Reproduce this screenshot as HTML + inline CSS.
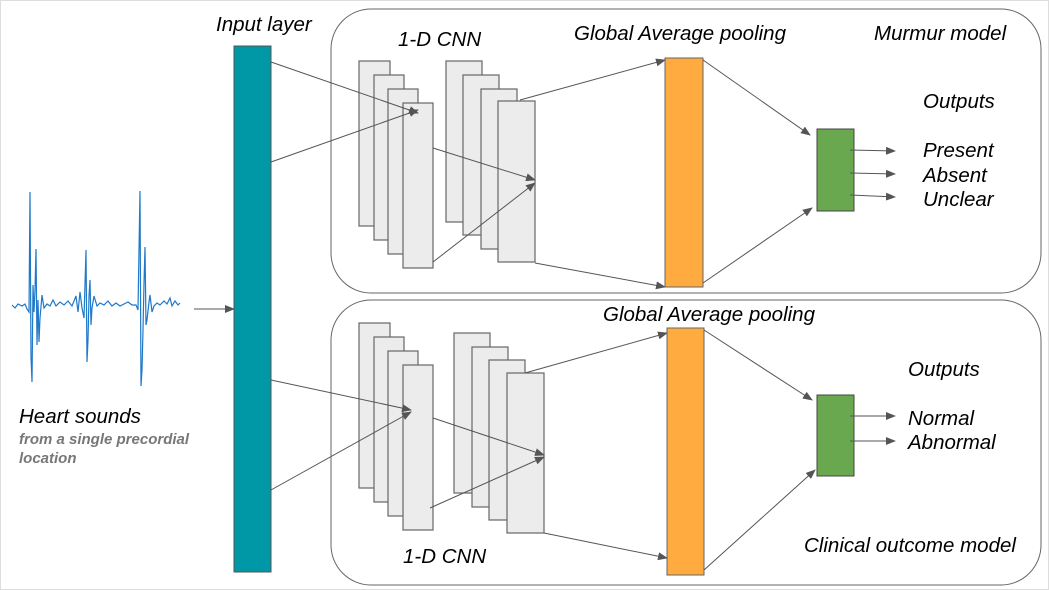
<!DOCTYPE html>
<html><head><style>
html,body{margin:0;padding:0;background:#fff;}
svg{display:block;}
text{font-family:"Liberation Sans",sans-serif;font-style:italic;fill:#000;}
</style></head><body>
<svg width="1049" height="590" viewBox="0 0 1049 590" xmlns="http://www.w3.org/2000/svg">
<defs>
<marker id="a" markerWidth="10" markerHeight="8" refX="9" refY="4" orient="auto" markerUnits="userSpaceOnUse">
<path d="M0,0 L10,4 L0,8 z" fill="#555"/></marker>
</defs>
<rect x="0.5" y="0.5" width="1048" height="589" fill="none" stroke="#ddd"/>
<rect x="331" y="9" width="710" height="284" rx="40" fill="none" stroke="#666" stroke-width="1"/>
<rect x="331" y="300" width="710" height="285" rx="40" fill="none" stroke="#666" stroke-width="1"/>
<rect x="234" y="46" width="37" height="526" fill="#0097a7" stroke="#555"/>
<g fill="#ececec" stroke="#666" stroke-width="1.2">
<rect x="359" y="61" width="31" height="165"/><rect x="374" y="75" width="30" height="165"/><rect x="388" y="89" width="30" height="165"/><rect x="403" y="103" width="30" height="165"/>
<rect x="446" y="61" width="36" height="161"/><rect x="463" y="75" width="36" height="160"/><rect x="481" y="89" width="36" height="160"/><rect x="498" y="101" width="37" height="161"/>
<rect x="359" y="323" width="31" height="165"/><rect x="374" y="337" width="30" height="165"/><rect x="388" y="351" width="30" height="165"/><rect x="403" y="365" width="30" height="165"/>
<rect x="454" y="333" width="36" height="160"/><rect x="472" y="347" width="36" height="160"/><rect x="489" y="360" width="36" height="160"/><rect x="507" y="373" width="37" height="160"/>
</g>
<rect x="665" y="58" width="38" height="229" fill="#ffab40" stroke="#666"/>
<rect x="667" y="328" width="37" height="247" fill="#ffab40" stroke="#666"/>
<rect x="817" y="129" width="37" height="82" fill="#6aa84f" stroke="#444"/>
<rect x="817" y="395" width="37" height="81" fill="#6aa84f" stroke="#444"/>
<g stroke="#555" stroke-width="1" fill="none" marker-end="url(#a)">
<line x1="194" y1="309" x2="234" y2="309"/>
<line x1="271" y1="62" x2="418" y2="113"/><line x1="271" y1="162" x2="418" y2="110"/>
<line x1="433" y1="148" x2="535" y2="180"/><line x1="433" y1="262" x2="535" y2="183"/>
<line x1="520" y1="100" x2="665" y2="60"/><line x1="535" y1="263" x2="665" y2="287"/>
<line x1="703" y1="60" x2="810" y2="135"/><line x1="703" y1="283" x2="812" y2="208"/>
<line x1="850" y1="150" x2="895" y2="151"/><line x1="850" y1="173" x2="895" y2="174"/><line x1="850" y1="195" x2="895" y2="197"/>
<line x1="271" y1="380" x2="411" y2="410"/><line x1="271" y1="490" x2="411" y2="412"/>
<line x1="433" y1="418" x2="544" y2="455"/><line x1="430" y1="508" x2="544" y2="457"/>
<line x1="525" y1="373" x2="667" y2="333"/><line x1="544" y1="533" x2="667" y2="558"/>
<line x1="704" y1="330" x2="812" y2="400"/><line x1="704" y1="570" x2="815" y2="470"/>
<line x1="850" y1="416" x2="895" y2="416"/><line x1="850" y1="441" x2="895" y2="441"/>
</g>
<polyline fill="none" stroke="#1f78c8" stroke-width="1.2" points="12,305 15,308 18,304 22,306 25,304 27,309 29,312 30,192 31,357 32,382 33,285 34,312 35,290 36,249 37,345 38,300 39,342 40,318 42,295 44,308 47,304 50,306 53,300 56,306 60,302 64,305 68,301 72,306 76,296 78,312 80,292 82,308 84,318 86,250 87,362 88,340 89,296 90,280 91,325 92,308 94,296 97,306 100,303 104,305 108,301 112,306 116,303 120,306 124,304 128,302 132,305 136,305 138,310 140,191 141,386 142,370 143,330 144,283 145,247 146,325 147,320 149,302 150,295 152,312 154,306 157,303 160,305 164,301 167,304 170,298 172,306 175,301 178,305 180,303"/>
<g font-size="20.5">
<text x="216" y="31">Input layer</text>
<text x="398" y="46">1-D CNN</text>
<text x="574" y="40">Global Average pooling</text>
<text x="874" y="40">Murmur model</text>
<text x="923" y="108">Outputs</text>
<text x="923" y="157">Present</text>
<text x="923" y="182">Absent</text>
<text x="923" y="206">Unclear</text>
<text x="603" y="321">Global Average pooling</text>
<text x="908" y="376">Outputs</text>
<text x="908" y="425">Normal</text>
<text x="908" y="449">Abnormal</text>
<text x="403" y="563">1-D CNN</text>
<text x="804" y="552">Clinical outcome model</text>
<text x="19" y="423">Heart sounds</text>
</g>
<text x="19" y="444" font-size="15" font-weight="bold" style="fill:#777">from a single precordial</text>
<text x="19" y="463" font-size="15" font-weight="bold" style="fill:#777">location</text>
</svg>
</body></html>
